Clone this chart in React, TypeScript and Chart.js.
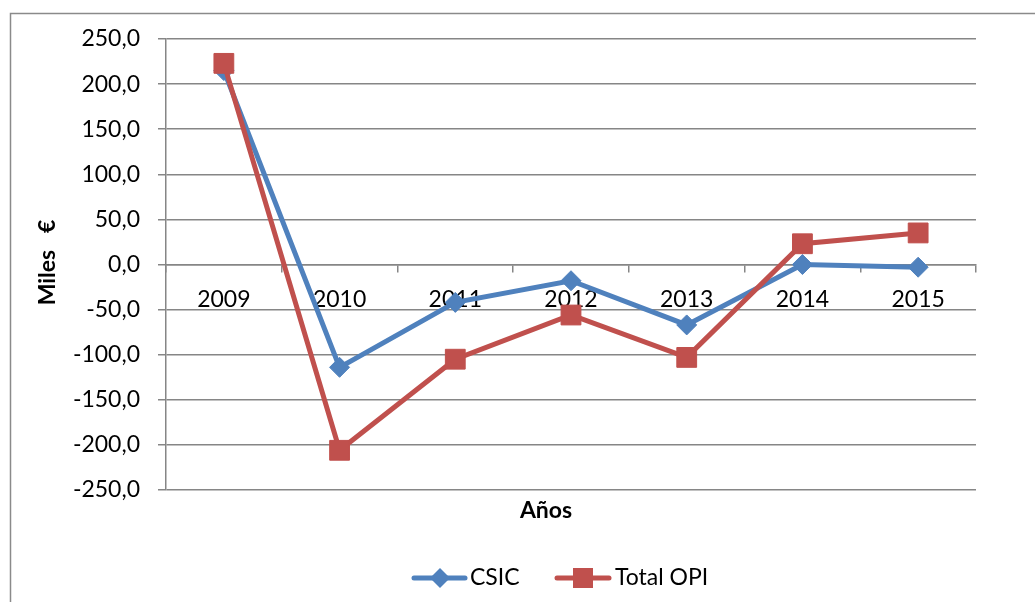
import { useEffect, useRef } from 'react';
import { Chart, registerables } from 'chart.js';

Chart.register(...registerables);

const years = ['2009', '2010', '2011', '2012', '2013', '2014', '2015'];
const csic = [215, -114, -42, -18, -67, 0, -3];
const totalOpi = [223, -206, -105, -56, -103, 23, 35];
const seriesNames = ['CSIC', 'Total OPI'];
const xTitle = 'Años';
const yTitle = 'Miles   €';
const yMin = -250;
const yMax = 250;
const yStep = 50;

const BLUE = '#4F81BD';
const RED = '#C0504D';
const GRID = '#868686';
const FONT = 'Lato, "Open Sans", sans-serif';

const extrasPlugin = {
  id: 'extras',
  afterDraw(chart: any) {
    const ctx = chart.ctx;
    const area = chart.chartArea;
    ctx.save();
    // outer frame
    ctx.strokeStyle = '#8a8a8a';
    ctx.lineWidth = 1.5;
    ctx.strokeRect(10.5, 13.5, 1200, 800);

    ctx.fillStyle = '#000';
    // x title
    ctx.font = `bold 23px ${FONT}`;
    ctx.textAlign = 'center';
    ctx.textBaseline = 'middle';
    ctx.fillText(xTitle, 546, 511);
    // y title
    ctx.save();
    ctx.translate(48, (area.top + area.bottom) / 2 - 2);
    ctx.rotate(-Math.PI / 2);
    ctx.fillText(yTitle, 0, 0);
    ctx.restore();

    // legend
    const ly = 578;
    ctx.font = `23px ${FONT}`;
    ctx.textAlign = 'left';
    ctx.lineCap = 'round';
    ctx.lineWidth = 5;
    // CSIC
    ctx.strokeStyle = BLUE;
    ctx.beginPath();
    ctx.moveTo(414, ly);
    ctx.lineTo(465, ly);
    ctx.stroke();
    ctx.fillStyle = BLUE;
    ctx.beginPath();
    ctx.moveTo(440, ly - 10);
    ctx.lineTo(450, ly);
    ctx.lineTo(440, ly + 10);
    ctx.lineTo(430, ly);
    ctx.closePath();
    ctx.fill();
    ctx.fillStyle = '#000';
    ctx.fillText(seriesNames[0], 470, ly);
    // Total OPI
    ctx.strokeStyle = RED;
    ctx.beginPath();
    ctx.moveTo(557, ly);
    ctx.lineTo(609, ly);
    ctx.stroke();
    ctx.fillStyle = RED;
    ctx.fillRect(573, ly - 10, 20, 20);
    ctx.fillStyle = '#000';
    ctx.fillText(seriesNames[1], 615, ly);
    ctx.restore();
  },
};

export default function App() {
  const ref = useRef<HTMLCanvasElement>(null);
  useEffect(() => {
    if (!ref.current) return;
    const chart = new Chart(ref.current, {
      type: 'line',
      data: {
        labels: years,
        datasets: [
          {
            label: seriesNames[0],
            data: csic,
            borderColor: BLUE,
            backgroundColor: BLUE,
            borderWidth: 5,
            pointStyle: 'rectRot',
            pointRadius: 10,
            pointBorderWidth: 1,
            pointBorderColor: BLUE,
            pointBackgroundColor: BLUE,
            tension: 0,
            order: 1,
          },
          {
            label: seriesNames[1],
            data: totalOpi,
            borderColor: RED,
            backgroundColor: RED,
            borderWidth: 5,
            pointStyle: 'rect',
            pointRadius: 14,
            pointBorderWidth: 1,
            pointBorderColor: RED,
            pointBackgroundColor: RED,
            tension: 0,
            order: 0,
          },
        ],
      },
      options: {
        responsive: false,
        animation: false,
        layout: { padding: { left: 0, top: 39, right: 59, bottom: 112 } },
        plugins: {
          legend: { display: false },
          tooltip: { enabled: false },
        },
        scales: {
          x: {
            type: 'category',
            position: { y: 0 } as any,
            offset: true,
            grid: {
              display: true,
              drawOnChartArea: false,
              drawTicks: true,
              tickLength: 7,
              color: GRID,
              lineWidth: 1.5,
              offset: true,
            },
            border: { display: true, color: GRID, width: 1.5 },
            ticks: {
              color: '#000',
              font: { family: FONT, size: 23 },
              padding: 14,
              maxRotation: 0,
              autoSkip: false,
            },
          },
          y: {
            min: yMin,
            max: yMax,
            afterFit: (scale: any) => {
              scale.width = 166;
            },
            grid: {
              color: GRID,
              lineWidth: 1.5,
              drawTicks: true,
              tickLength: 8,
            },
            border: { display: true, color: GRID, width: 1.5 },
            ticks: {
              stepSize: yStep,
              color: '#000',
              font: { family: FONT, size: 23 },
              padding: 18,
              callback: (v: any) => Number(v).toFixed(1).replace('.', ','),
            },
          },
        },
      },
      plugins: [extrasPlugin],
    });
    return () => chart.destroy();
  }, []);
  return (
    <div style={{ position: 'absolute', left: 0, top: 0, width: 1035, height: 602 }}>
      <canvas ref={ref} width={1035} height={602} />
    </div>
  );
}
